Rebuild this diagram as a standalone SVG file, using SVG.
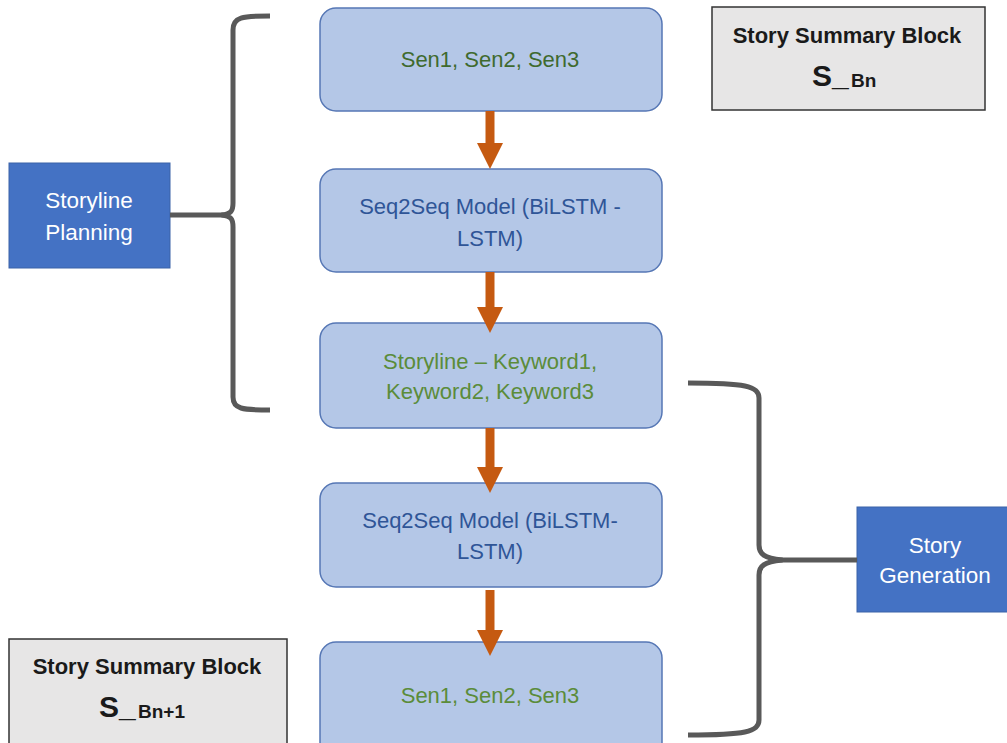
<svg xmlns="http://www.w3.org/2000/svg" width="1007" height="743" viewBox="0 0 1007 743">
<style>
text{font-family:"Liberation Sans",Arial,sans-serif;text-anchor:middle}
.step{fill:#B4C7E7;stroke:#5677B5;stroke-width:1.5}
.phase{fill:#4472C4;stroke:#3A62A8;stroke-width:1}
.sum{fill:#E7E6E6;stroke:#333;stroke-width:1.5}
.g{fill:#5B8C3A;font-size:22px}
.g1{fill:#3F6A2E;font-size:22px}
.b{fill:#2F5597;font-size:22px}
.w{fill:#fff;font-size:22.5px}
.st{font-weight:bold;font-size:22px;fill:#1a1a1a}
.big{font-weight:bold;font-size:30px;fill:#1a1a1a;text-anchor:start}
.sub{font-weight:bold;font-size:19px;fill:#1a1a1a;text-anchor:start}
.br{fill:none;stroke:#595959;stroke-width:5;stroke-linejoin:round}
.ar{stroke:#C55A11;stroke-width:9;fill:none}
</style>
<defs>
<marker id="ah" markerUnits="userSpaceOnUse" markerWidth="26" markerHeight="26" viewBox="0 0 26 26" refX="0" refY="13" orient="auto">
<path d="M0,0 L26,13 L0,26 z" fill="#C55A11"/>
</marker>
</defs>
<g id="sen-in">
<rect class="step" x="320" y="8" width="342" height="103" rx="16"/>
<text class="g1" x="490" y="67">Sen1, Sen2, Sen3</text>
</g>
<g id="seq2seq-1">
<rect class="step" x="320" y="169" width="342" height="103" rx="16"/>
<text class="b" x="490" y="214">Seq2Seq Model (BiLSTM -</text>
<text class="b" x="490" y="246">LSTM)</text>
</g>
<g id="storyline">
<rect class="step" x="320" y="323" width="342" height="105" rx="16"/>
<text class="g" x="490" y="369">Storyline – Keyword1,</text>
<text class="g" x="490" y="399">Keyword2, Keyword3</text>
</g>
<g id="seq2seq-2">
<rect class="step" x="320" y="483" width="342" height="104" rx="16"/>
<text class="b" x="490" y="528">Seq2Seq Model (BiLSTM-</text>
<text class="b" x="490" y="559">LSTM)</text>
</g>
<g id="sen-out">
<rect class="step" x="320" y="642" width="342" height="120" rx="16"/>
<text class="g" x="490" y="703">Sen1, Sen2, Sen3</text>
</g>
<g id="storyline-planning">
<rect class="phase" x="9" y="163" width="161" height="105"/>
<text class="w" x="89" y="208">Storyline</text>
<text class="w" x="89" y="240">Planning</text>
</g>
<g id="story-generation">
<rect class="phase" x="857" y="507" width="152" height="105"/>
<text class="w" x="935" y="553">Story</text>
<text class="w" x="935" y="583">Generation</text>
</g>
<g id="summary-bn">
<rect class="sum" x="712" y="7" width="273" height="103"/>
<text class="st" x="847" y="43">Story Summary Block</text>
<text class="big" x="812" y="86">S_</text>
<text class="sub" x="851" y="87">Bn</text>
</g>
<g id="summary-bn1">
<rect class="sum" x="9" y="639" width="278" height="120"/>
<text class="st" x="147" y="674">Story Summary Block</text>
<text class="big" x="99" y="717">S_</text>
<text class="sub" x="138" y="718">Bn+1</text>
</g>
<g id="connectors">
<line class="ar" x1="490" y1="111" x2="490" y2="143" marker-end="url(#ah)"/>
<line class="ar" x1="490" y1="272" x2="490" y2="307" marker-end="url(#ah)"/>
<line class="ar" x1="490" y1="428" x2="490" y2="467" marker-end="url(#ah)"/>
<line class="ar" x1="490" y1="590" x2="490" y2="630" marker-end="url(#ah)"/>
<path class="br" d="M270,16 C242,16 233,17 233,30 L233,203 C233,211 231,214 222,215 C231,216 233,219 233,227 L233,397 C233,409 242,410 270,410"/>
<line class="br" x1="170" y1="215" x2="226" y2="215"/>
<path class="br" d="M688,383 C745,383 759,386 759,398 L759,545 C759,554 764,558 782,560 C764,562 759,566 759,575 L759,720 C759,732 745,735 688,735"/>
<line class="br" x1="778" y1="560" x2="857" y2="560"/>
</g>
</svg>
